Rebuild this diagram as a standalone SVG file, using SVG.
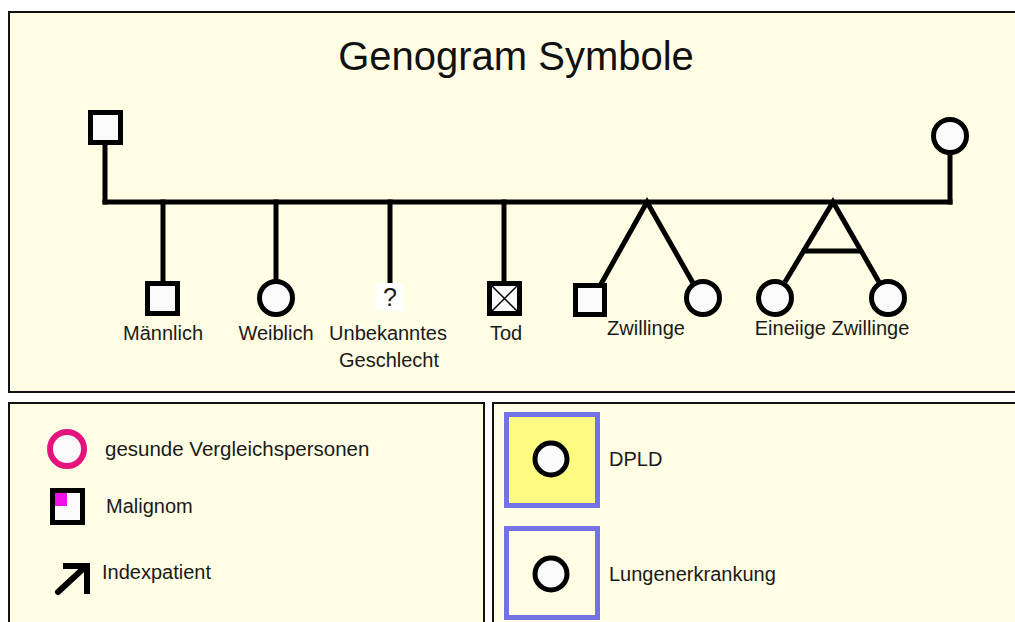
<svg xmlns="http://www.w3.org/2000/svg" width="1015" height="622" viewBox="0 0 1015 622">
  <style>
    .panel { fill: #FFFDE3; stroke: #111; stroke-width: 2; }
    .sym { fill: #FAFAFA; stroke: #000; stroke-width: 5; }
    .link { fill: none; stroke: #000; stroke-width: 5; stroke-linecap: square; }
    .lbl { font-family: "Liberation Sans", Arial, sans-serif; font-size: 20px; fill: #1a1a1a; }
    .mid { text-anchor: middle; }
    .title { font-family: "Liberation Sans", Arial, sans-serif; font-size: 40px; fill: #111; text-anchor: middle; }
    .frame { stroke: #7373E6; stroke-width: 5; }
  </style>

  <rect x="0" y="0" width="1015" height="622" fill="#FFFFFF"/>

  <!-- panels -->
  <rect class="panel" x="9" y="12" width="1020" height="380"/>
  <rect class="panel" x="9" y="403" width="475" height="240"/>
  <rect class="panel" x="493" y="403" width="540" height="240"/>

  <text class="title" x="516" y="70">Genogram Symbole</text>

  <!-- connectors -->
  <g id="connectors" class="link">
    <line x1="105" y1="145" x2="105" y2="202"/>
    <line x1="950" y1="153" x2="950" y2="202"/>
    <line x1="105" y1="202" x2="950" y2="202"/>
    <line x1="163" y1="202" x2="163" y2="281"/>
    <line x1="276" y1="202" x2="276" y2="279"/>
    <line x1="390" y1="202" x2="390" y2="283"/>
    <line x1="504" y1="202" x2="504" y2="281"/>
    <polyline points="601,284 647,202 693,283" stroke-linecap="butt" stroke-linejoin="miter"/>
    <polyline points="785,282 833,202 879,282" stroke-linecap="butt" stroke-linejoin="miter"/>
    <line x1="804" y1="251" x2="861" y2="251" stroke-linecap="butt"/>
  </g>

  <!-- parents -->
  <g id="father"><rect class="sym" x="90.5" y="112.5" width="30" height="30"/></g>
  <g id="mother"><circle class="sym" cx="950" cy="136" r="16.5"/></g>

  <!-- children -->
  <g id="male">
    <rect class="sym" x="147.5" y="283.5" width="30" height="30"/>
    <text class="lbl mid" x="163" y="340">Männlich</text>
  </g>
  <g id="female">
    <circle class="sym" cx="276" cy="298" r="16.5"/>
    <text class="lbl mid" x="276" y="340">Weiblich</text>
  </g>
  <g id="unknown">
    <rect x="376" y="283" width="28" height="28" fill="#FFFFFF"/>
    <text class="lbl mid" x="390" y="306" style="font-size:25px">?</text>
    <text class="lbl mid" x="388" y="340">Unbekanntes</text>
    <text class="lbl mid" x="389" y="367">Geschlecht</text>
  </g>
  <g id="deceased">
    <rect class="sym" x="489.5" y="283.5" width="30" height="30"/>
    <path d="M492 286 L517 311 M517 286 L492 311" stroke="#000" stroke-width="1.5" fill="none"/>
    <text class="lbl mid" x="506" y="340">Tod</text>
  </g>
  <g id="twins">
    <rect class="sym" x="575.5" y="285.5" width="29" height="29"/>
    <circle class="sym" cx="703" cy="298" r="16.5"/>
    <text class="lbl mid" x="646" y="335">Zwillinge</text>
  </g>
  <g id="identical-twins">
    <circle class="sym" cx="775" cy="298" r="16.5"/>
    <circle class="sym" cx="888" cy="298" r="16.5"/>
    <text class="lbl mid" x="832" y="335">Eineiige Zwillinge</text>
  </g>

  <!-- legend, left -->
  <g id="healthy-controls">
    <circle cx="67" cy="449" r="17" fill="#FAFAFA" stroke="#E5137E" stroke-width="6"/>
    <text class="lbl" x="105" y="456" style="font-size:20.5px">gesunde Vergleichspersonen</text>
  </g>
  <g id="malignancy">
    <rect class="sym" x="52.5" y="490.5" width="30" height="32"/>
    <rect x="55" y="493" width="12" height="13" fill="#F010E8"/>
    <text class="lbl" x="106" y="513">Malignom</text>
  </g>
  <g id="index-patient">
    <line x1="58" y1="592" x2="85" y2="567" stroke="#000" stroke-width="6" stroke-linecap="round"/>
    <polyline points="63,566 87,566 87,594" fill="none" stroke="#000" stroke-width="6" stroke-linejoin="miter"/>
    <text class="lbl" x="102" y="579">Indexpatient</text>
  </g>

  <!-- legend, right -->
  <g id="dpld">
    <rect class="frame" x="506.5" y="414.5" width="91" height="91" fill="#FFFA80"/>
    <circle class="sym" cx="551" cy="459" r="16"/>
    <text class="lbl" x="609" y="466">DPLD</text>
  </g>
  <g id="lung-disease">
    <rect class="frame" x="506.5" y="528.5" width="91" height="89" fill="#FFFDE3"/>
    <circle class="sym" cx="551" cy="574" r="16"/>
    <text class="lbl" x="609" y="581">Lungenerkrankung</text>
  </g>
</svg>
